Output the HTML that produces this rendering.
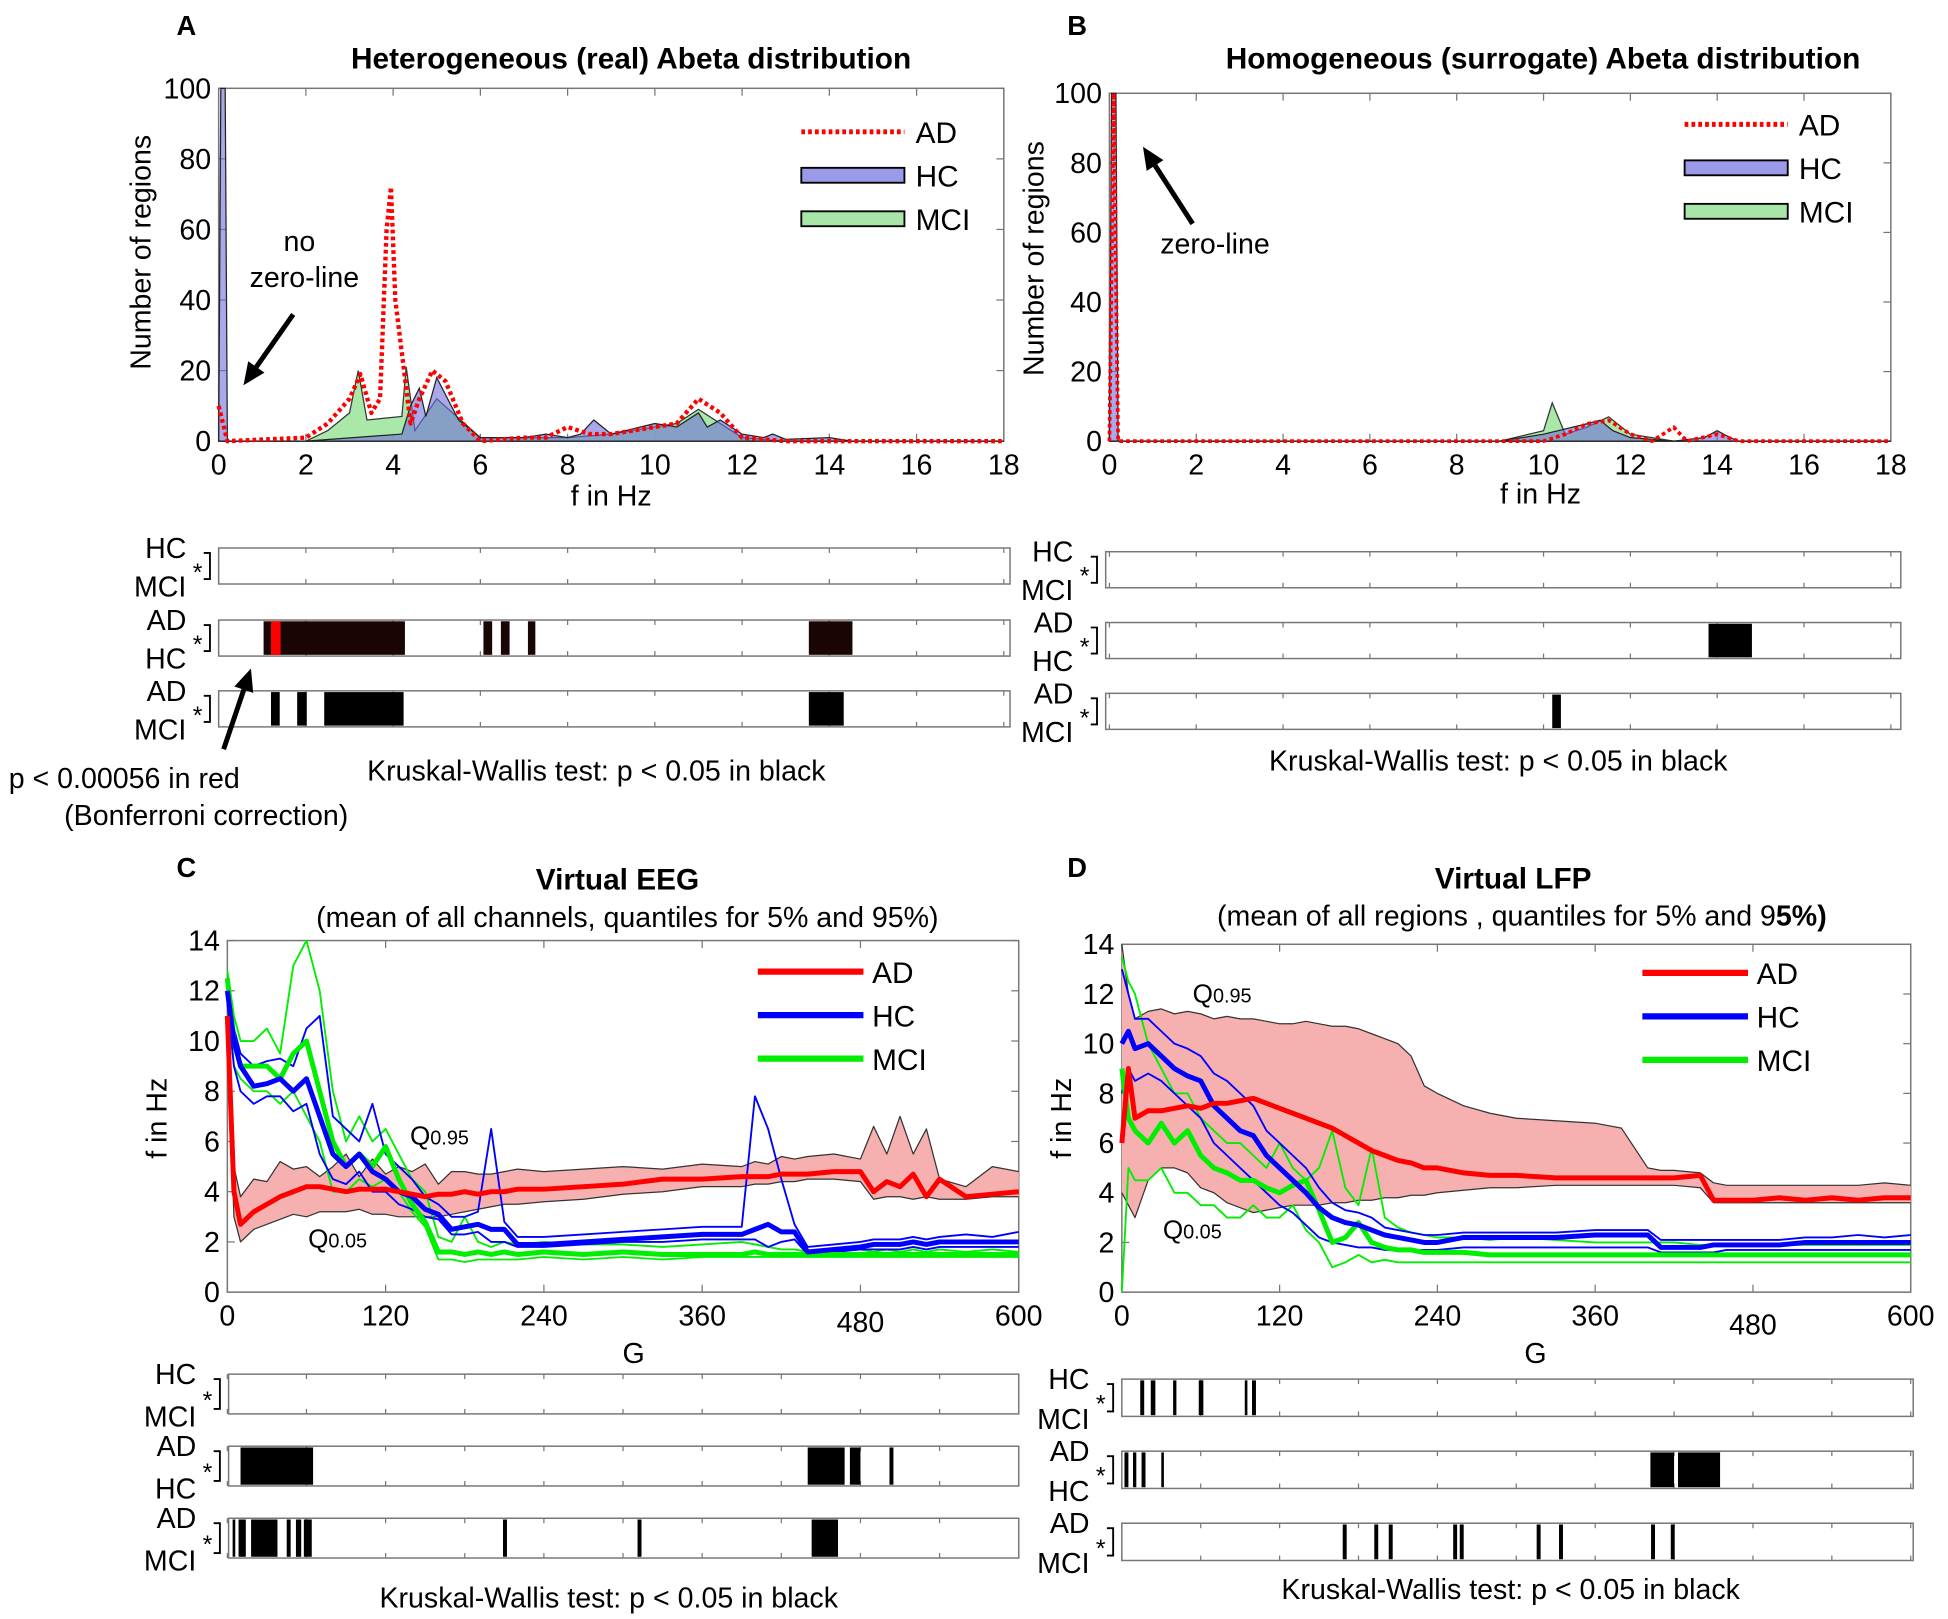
<!DOCTYPE html>
<html><head><meta charset="utf-8"><style>
html,body{margin:0;padding:0;background:#fff}
svg{display:block}
text{font-family:"Liberation Sans",Arial,sans-serif;fill:#000}
</style></head><body>
<svg id="fig" width="1948" height="1619" viewBox="0 0 1568 1303" xmlns="http://www.w3.org/2000/svg"></svg>
<script>
// ---------- Panel A data (f in Hz, number of regions) ----------
const aHcF = [0,0.05,0.15,0.2,2,4.2,4.4,4.6,4.75,5,5.5,6,7,7.5,8,8.3,8.6,9,10,10.5,11,11.2,11.5,12,12.5,12.7,13,14,14.5,18];
const aHcV = [0,100,100,0,0,2,10,15,7,18,6,1,1,2,1,2,6,2,5,4,8,4,6,2,1,2,0.5,1,0,0];
const aMciF = [0,2,2.5,3,3.2,3.4,4.2,4.3,4.5,5,6,8,9,10,10.5,11,12,13,18];
const aMciV = [0,0,3,8,20,6,7,21,3,12,1,1,2,4,5,9,1,0,0];
const aAdF = [0,0.1,0.2,2,2.5,3,3.25,3.5,3.7,3.85,3.95,4.05,4.4,4.6,4.9,5.2,5.6,6,7,7.5,8,8.5,9,9.5,10,10.5,11,11.5,12,13,18];
const aAdV = [10,5,0,1,5,12,19,8,12,60,72,40,5,12,20,17,5,0,1,1,4,2,2,3,4,5,12,8,1,0,0];
// ---------- Panel B data ----------
const bHcF = [0,0.05,0.15,0.2,9,10,11,11.3,11.6,12,13,13.7,14,14.3,14.5,18];
const bHcV = [0,100,100,0,0,2,5,6,3,1,0,1,3,1,0,0];
const bMciF = [0,9,10,10.2,10.5,11,11.5,12,13,18];
const bMciV = [0,0,3,11,2,4,7,2,0,0];
const bAdF = [0,0.1,0.2,10,10.5,11,11.5,12,12.5,13,13.3,14,14.5,18];
const bAdV = [0,100,0,0,2,5,6,2,0,4,0,2,0,0];
// ---------- Panel C data (G vs f in Hz) ----------
const cG = [0,5,10,20,30,40,50,60,70,80,90,100,110,120,130,140,150,160,170,180,190,200,210,220,240,270,300,330,360,390,400,410,420,430,440,460,480,490,500,510,520,530,540,560,580,600];
const cAdMean = [11,4,2.7,3.2,3.5,3.8,4.0,4.2,4.2,4.1,4.0,4.1,4.1,4.1,4.0,3.9,3.8,3.9,3.9,4.0,3.9,4.0,4.0,4.1,4.1,4.2,4.3,4.5,4.5,4.6,4.6,4.6,4.7,4.7,4.7,4.8,4.8,4.0,4.4,4.2,4.7,3.8,4.5,3.8,3.9,4.0];
const cAdQ95 = [11,5,3.8,4.5,4.4,5.2,4.9,5.0,4.6,5.0,5.5,4.6,5.3,4.7,5.0,4.8,5.1,4.3,4.8,4.8,4.7,4.7,4.8,4.9,4.8,4.9,5.0,4.9,5.1,5.0,5.2,5.1,5.4,5.3,5.4,5.5,5.3,6.6,5.5,7.0,5.5,6.5,4.5,4.2,5.0,4.8];
const cAdQ05 = [10,3,2.0,2.5,2.7,2.9,3.1,3.0,3.2,3.2,3.2,3.3,3.1,3.1,3.0,3.0,3.0,3.0,3.1,3.2,3.3,3.4,3.5,3.5,3.6,3.7,3.9,4.0,4.2,4.2,4.3,4.3,4.4,4.4,4.5,4.5,4.4,3.7,3.8,3.8,3.7,3.8,3.7,3.7,3.8,3.8];
const cHcMean = [12,10,9,8.2,8.3,8.5,8.0,8.5,7.0,5.5,5.0,5.5,4.8,4.5,4.0,3.8,3.3,3.1,2.5,2.6,2.7,2.5,2.5,1.9,1.9,2.0,2.1,2.2,2.3,2.3,2.5,2.7,2.4,2.4,1.6,1.7,1.8,1.9,1.9,1.9,2.0,1.9,2.0,2.0,2.0,2.0];
const cHcQ95 = [12.5,10.5,9.5,9.0,9.2,9.3,9.0,10.5,11,7.0,6.5,6.0,7.5,5.5,5.0,4.5,3.8,3.5,3.0,3.0,3.2,6.5,2.8,2.2,2.2,2.3,2.4,2.5,2.6,2.6,7.8,6.5,4.5,2.7,1.8,1.9,2.0,2.1,2.1,2.1,2.2,2.1,2.2,2.3,2.2,2.4];
const cHcQ05 = [11.5,9,8,7.5,7.8,7.8,7.2,7.5,5.5,4.5,4.3,4.8,4.0,4.0,3.5,3.3,3.0,2.9,2.3,2.3,2.4,2.0,2.0,1.8,1.8,1.9,2.0,2.0,2.1,2.1,2.1,1.8,2.0,2.1,1.5,1.6,1.7,1.7,1.7,1.7,1.8,1.7,1.8,1.8,1.8,1.8];
const cMciMean = [12.5,10,9,9,9,8.5,9.5,10,8,6,5,5.5,5,5.8,4.5,3.5,2.8,1.6,1.6,1.5,1.6,1.5,1.6,1.5,1.6,1.5,1.6,1.5,1.5,1.5,1.6,1.5,1.5,1.5,1.5,1.5,1.5,1.5,1.5,1.5,1.5,1.5,1.5,1.5,1.5,1.5];
const cMciQ95 = [12.8,11,10,10,10.5,9.5,13,14,12,8,6,7,6,6.5,5.5,4.5,4,2.2,2.0,3.0,2.0,1.8,2.0,1.9,2.0,1.9,1.9,1.8,1.9,2.0,1.9,1.8,1.7,1.7,1.6,1.6,1.7,1.6,1.7,1.6,1.7,1.6,1.7,1.6,1.7,1.6];
const cMciQ05 = [12,9,8.5,8,8,7.5,8,7,6,4,4,4.5,4.2,4.5,4,3.2,2.6,1.3,1.3,1.2,1.3,1.3,1.3,1.3,1.4,1.3,1.4,1.3,1.4,1.4,1.4,1.4,1.4,1.4,1.4,1.4,1.4,1.4,1.4,1.4,1.4,1.4,1.4,1.4,1.4,1.4];
// ---------- Panel D data ----------
const dG = [0,5,10,20,30,40,50,60,70,80,90,100,110,120,130,140,150,160,170,180,190,200,210,220,230,240,260,280,300,330,360,380,400,410,420,440,450,460,480,500,520,540,560,580,600];
const dAdMean = [6,9,7,7.3,7.3,7.4,7.5,7.4,7.6,7.6,7.7,7.8,7.6,7.4,7.2,7.0,6.8,6.6,6.3,6.0,5.7,5.5,5.3,5.2,5.0,5.0,4.8,4.7,4.7,4.6,4.6,4.6,4.6,4.6,4.6,4.7,3.7,3.7,3.7,3.8,3.7,3.8,3.7,3.8,3.8];
const dAdQ95 = [14,12,11,11.3,11.4,11.2,11.3,11.2,11,11.1,11.0,11.0,10.9,10.8,10.8,10.9,10.8,10.7,10.7,10.6,10.4,10.2,10.0,9.5,8.3,8.0,7.5,7.2,7.0,6.9,6.8,6.6,5.0,4.9,4.9,4.8,4.4,4.3,4.3,4.3,4.3,4.3,4.3,4.4,4.3];
const dAdQ05 = [4,3.5,3,4.5,5,5,4.8,4.2,4.0,3.6,3.4,3.2,3.3,3.4,3.5,3.5,3.5,3.6,3.6,3.7,3.7,3.8,3.8,3.9,3.9,4.0,4.1,4.2,4.2,4.3,4.3,4.3,4.3,4.3,4.3,4.2,3.6,3.6,3.6,3.6,3.6,3.6,3.6,3.6,3.6];
const dHcMean = [10,10.5,9.8,10,9.5,9,8.7,8.5,7.5,7,6.5,6.3,5.5,5,4.5,4,3.4,3.0,2.8,2.7,2.5,2.3,2.2,2.1,2.0,2.0,2.2,2.2,2.2,2.2,2.3,2.3,2.3,1.8,1.8,1.8,1.9,1.9,1.9,1.9,2.0,2.0,2.0,2.0,2.0];
const dHcQ95 = [13,12,11,11,10.5,10,9.8,9.5,8.8,8.5,8,7.5,6.5,6,5.5,5,4.2,3.6,3.3,3.2,3.0,2.6,2.5,2.4,2.3,2.3,2.4,2.4,2.4,2.4,2.5,2.5,2.5,2.1,2.1,2.1,2.1,2.1,2.1,2.1,2.2,2.2,2.3,2.2,2.3];
const dHcQ05 = [8,9,8.5,8.8,8.5,8,7.5,7,6,5.5,5,4.5,4,3.5,3.2,2.7,2.2,2.0,1.9,1.8,1.8,1.7,1.7,1.7,1.7,1.7,1.8,1.8,1.8,1.8,1.8,1.8,1.8,1.6,1.6,1.6,1.6,1.7,1.7,1.7,1.7,1.7,1.7,1.7,1.7];
const dMciMean = [9,7,6.5,6,6.8,6,6.5,5.5,5,4.8,4.5,4.5,4.2,4.0,4.3,4.5,3.3,2.0,2.2,2.8,2.0,1.8,1.7,1.7,1.6,1.6,1.6,1.5,1.5,1.5,1.5,1.5,1.5,1.5,1.5,1.5,1.5,1.5,1.5,1.5,1.5,1.5,1.5,1.5,1.5];
const dMciQ95 = [13.5,12.5,12,10,9,8,8,7,6.5,6,6,5.5,5,6,5,4.5,5,6.5,4.2,3.5,5.8,3,2.6,2.4,2.3,2.2,2.2,2.1,2.2,2.1,2.0,2.0,2.0,2.0,2.0,1.9,1.9,1.9,1.9,1.9,1.9,1.9,1.9,1.9,1.9];
const dMciQ05 = [0,5,4.5,4.5,5,4,4,3.5,3.5,3,3,3.5,3,3,3.5,2.5,2,1.0,1.2,1.5,1.2,1.3,1.2,1.2,1.2,1.2,1.2,1.2,1.2,1.2,1.2,1.2,1.2,1.2,1.2,1.2,1.2,1.2,1.2,1.2,1.2,1.2,1.2,1.2,1.2];
// ---------- Significance intervals ----------
const sigA = [[], [[1.03,4.27],[6.07,6.27],[6.47,6.67],[7.09,7.26],[13.53,14.53]], [[1.2,1.4],[1.8,2.02],[2.42,4.24],[13.53,14.33]]];
const sigARed = [[1.2,1.42]];
const sigB = [[], [[13.8,14.8]], [[10.2,10.4]]];
const sigC = [[], [[10,65],[440,468],[472,480],[502,505]], [[4,6],[8.5,14],[18,38],[45,48],[52,56],[58,64],[209,212],[311,314],[443,463]]];
const sigD = [[[14,17],[22,25.5],[39,41.5],[58.5,62],[93.5,95.5],[99,102]], [[2,5],[8.5,11],[15,18],[30,32],[402,420],[423,455]], [[168,171],[192,195],[203,206],[252,255],[257,260],[315.5,318.5],[332.5,335.5],[402.5,405.5],[417.5,420.5]]];
const freqTicks = [0,2,4,6,8,10,12,14,16,18];
const countTicks = [0,20,40,60,80,100];
const gTicks = [0,120,240,360,480,600];
const fTicks = [0,2,4,6,8,10,12,14];

const NS = 'http://www.w3.org/2000/svg';
const svg = document.getElementById('fig');
function el(tag, attrs, parent, txt){
  const e = document.createElementNS(NS, tag);
  for (const k in attrs) e.setAttribute(k, attrs[k]);
  if (txt !== undefined) e.textContent = txt;
  (parent || svg).appendChild(e);
  return e;
}
function txt(x,y,s,size,anchor,name,bold,parent){
  const t = el('text',{x:x,y:y,'font-size':size,'text-anchor':anchor||'middle'},parent,s);
  if (bold) t.setAttribute('font-weight','bold');
  
  
  return t;
}
function axes(o){
  const g = el('g',{});
  
  
  const sx = v => o.x0 + (v - o.xmin)/(o.xmax - o.xmin)*(o.x1 - o.x0);
  const sy = v => o.y0 - (v - o.ymin)/(o.ymax - o.ymin)*(o.y0 - o.y1);
  const box = el('rect',{x:o.x0,y:o.y1,width:o.x1-o.x0,height:o.y0-o.y1,fill:'#fff',stroke:'#777','stroke-width':1.2},g);
  
  
  o.xt.forEach((v,i) => {
    const x = sx(v);
    el('line',{x1:x,y1:o.y0,x2:x,y2:o.y0-6,stroke:'#777'},g);
    el('line',{x1:x,y1:o.y1,x2:x,y2:o.y1+6,stroke:'#777'},g);
    const dy = (o.xlabOffset && o.xlabOffset[i]) || 0;
    txt(x, o.y0+27+dy, String(v), 23, 'middle', 'x-tick-label', false, g);
  });
  o.yt.forEach(v => {
    const y = sy(v);
    el('line',{x1:o.x0,y1:y,x2:o.x0+6,y2:y,stroke:'#777'},g);
    el('line',{x1:o.x1,y1:y,x2:o.x1-6,y2:y,stroke:'#777'},g);
    txt(o.x0-6, y+8, String(v), 23, 'end', 'y-tick-label', false, g);
  });
  return {g, sx, sy};
}
function area(ax, xs, ys, fill, stroke, name){
  let d = 'M' + ax.sx(xs[0]) + ',' + ax.sy(0);
  xs.forEach((x,i) => { d += 'L' + ax.sx(x) + ',' + ax.sy(ys[i]); });
  d += 'L' + ax.sx(xs[xs.length-1]) + ',' + ax.sy(0) + 'Z';
  const p = el('path',{d:d,fill:fill,stroke:stroke,'stroke-width':1},ax.g);
  
  
}
function line(ax, xs, ys, color, w, dash, name){
  const pts = xs.map((x,i) => ax.sx(x) + ',' + ax.sy(ys[i])).join(' ');
  const p = el('polyline',{points:pts,fill:'none',stroke:color,'stroke-width':w,'stroke-linejoin':'round'},ax.g);
  if (dash) p.setAttribute('stroke-dasharray', dash);
  
  
}
function band(ax, xs, lo, hi, name){
  let d = 'M' + xs.map((x,i) => ax.sx(x) + ',' + ax.sy(hi[i])).join('L');
  d += 'L' + xs.slice().reverse().map((x,i) => ax.sx(x) + ',' + ax.sy(lo[xs.length-1-i])).join('L') + 'Z';
  const p = el('path',{d:d,fill:'#f7b0b0',stroke:'none'},ax.g);
  
  
  line(ax, xs, hi, '#333', 1, null, name + '-upper');
  line(ax, xs, lo, '#333', 1, null, name + '-lower');
}
function strips(o){
  const g = el('g',{});
  
  
  const sx = v => o.x0 + (v - o.xmin)/(o.xmax - o.xmin)*(o.x1 - o.x0);
  o.rows.forEach((r,i) => {
    const y = o.ys[i];
    const rg = el('g',{},g);
    
    
    el('rect',{x:o.bx0,y:y,width:o.bx1-o.bx0,height:o.h,fill:'#fff',stroke:'#777','stroke-width':1.2},rg);
    o.ticks.forEach(v => {
      const x = sx(v);
      el('line',{x1:x,y1:y,x2:x,y2:y+4,stroke:'#777'},rg);
      el('line',{x1:x,y1:y+o.h,x2:x,y2:y+o.h-4,stroke:'#777'},rg);
    });
    r.forEach(iv => {
      const b = el('rect',{x:sx(iv[0]),y:y+1,width:sx(iv[1])-sx(iv[0]),height:o.h-2,fill:i===1&&o.dark?'#1a0505':'#000'},rg);
      
      
    });
    if (i===1 && o.red) o.red.forEach(iv => {
      const b = el('rect',{x:sx(iv[0]),y:y+1,width:sx(iv[1])-sx(iv[0]),height:o.h-2,fill:'#ff0000'},rg);
      
      
    });
    const lx = o.bx0 - 12;
    txt(lx-14, y+8, o.labels[i][0], 23, 'end', 'group-label', false, rg);
    txt(lx-14, y+o.h+10, o.labels[i][1], 23, 'end', 'group-label', false, rg);
    el('path',{d:'M'+(lx)+','+(y+4)+'h5v'+(o.h-8)+'h-5',fill:'none',stroke:'#000','stroke-width':1.5},rg);
    txt(lx-5, y+o.h/2+12, '*', 20, 'middle', 'significance-asterisk', false, rg);
  });
  txt(o.tx, o.ty, 'Kruskal-Wallis test: p < 0.05 in black', 23, 'middle', 'test-caption', false, g);
}
function arrow(x1,y1,x2,y2,name){
  const g = el('g',{});
  
  
  const a = Math.atan2(y2-y1,x2-x1), L=18, W=8;
  const bx = x2 - L*Math.cos(a), by = y2 - L*Math.sin(a);
  el('line',{x1:x1,y1:y1,x2:bx,y2:by,stroke:'#000','stroke-width':4},g);
  el('polygon',{points:x2+','+y2+' '+(bx+W*Math.sin(a))+','+(by-W*Math.cos(a))+' '+(bx-W*Math.sin(a))+','+(by+W*Math.cos(a)),fill:'#000'},g);
}
function legend(x, y0, items, kind, name){
  const g = el('g',{});
  
  
  items.forEach((it,i) => {
    const y = y0 + i*35;
    const eg = el('g',{},g);
    
    
    if (it.type === 'dot') el('line',{x1:x,y1:y,x2:x+83,y2:y,stroke:'#ff0000','stroke-width':4,'stroke-dasharray':'3 2.5'},eg);
    else if (it.type === 'box') el('rect',{x:x,y:y-6,width:83,height:12,fill:it.color,stroke:'#000','stroke-width':1.5},eg);
    else el('line',{x1:x,y1:y,x2:x+85,y2:y,stroke:it.color,'stroke-width':5},eg);
    txt(x+92, y+9, it.label, 24, 'start', 'legend-label', false, eg);
  });
}

// ===== Panel A =====
txt(150,28,'A',22,'middle','panel-letter-a',true);
txt(508,55,'Heterogeneous (real) Abeta distribution',24,'middle','panel-a-title',true);
const A = axes({name:'panel-a-axes',x0:176,x1:808,y0:355,y1:71,xmin:0,xmax:18,ymin:0,ymax:100,xt:freqTicks,yt:countTicks});
area(A, aMciF, aMciV, 'rgba(160,230,160,0.9)', '#333', 'mci-area');
area(A, aHcF, aHcV, 'rgba(110,110,220,0.6)', '#222', 'hc-area');
line(A, aAdF, aAdV, '#ff0000', 3.5, '3 2.5', 'ad-line');
txt(492,407,'f in Hz',23,'middle','x-axis-title');
txt(0,0,'Number of regions',23,'middle','y-axis-title').setAttribute('transform','translate(121,203) rotate(-90)');
legend(645,106,[{type:'dot',label:'AD'},{type:'box',label:'HC',color:'#9a9ae8'},{type:'box',label:'MCI',color:'#a8e6a8'}],'a','panel-a-legend');
txt(241,202,'no',23,'middle','annotation-no-zero-line');
txt(245,231,'zero-line',23,'middle','annotation-no-zero-line');
arrow(236,253,196,310,'annotation-arrow');
strips({name:'panel-a-significance',x0:176,x1:808,xmin:0,xmax:18,bx0:176,bx1:813,ys:[441,499,556],h:29,rows:sigA,red:sigARed,dark:true,labels:[['HC','MCI'],['AD','HC'],['AD','MCI']],ticks:freqTicks,tx:480,ty:628});
txt(100,634,'p < 0.00056 in red',23,'middle','bonferroni-note');
txt(166,664,'(Bonferroni correction)',23,'middle','bonferroni-note');
arrow(180,603,202,538,'bonferroni-arrow');

// ===== Panel B =====
txt(867,28,'B',22,'middle','panel-letter-b',true);
txt(1242,55,'Homogeneous (surrogate) Abeta distribution',24,'middle','panel-b-title',true);
const B = axes({name:'panel-b-axes',x0:893,x1:1522,y0:355,y1:75,xmin:0,xmax:18,ymin:0,ymax:100,xt:freqTicks,yt:countTicks});
area(B, bMciF, bMciV, 'rgba(160,230,160,0.9)', '#333', 'mci-area');
area(B, bHcF, bHcV, 'rgba(110,110,220,0.6)', '#222', 'hc-area');
line(B, bAdF, bAdV, '#ff0000', 3, '3 2.5', 'ad-line');
txt(1240,405,'f in Hz',23,'middle','x-axis-title');
txt(0,0,'Number of regions',23,'middle','y-axis-title').setAttribute('transform','translate(840,208) rotate(-90)');
legend(1356,100,[{type:'dot',label:'AD'},{type:'box',label:'HC',color:'#9a9ae8'},{type:'box',label:'MCI',color:'#a8e6a8'}],'b','panel-b-legend');
txt(978,204,'zero-line',23,'middle','annotation-zero-line');
arrow(960,180,920,118,'zero-line-arrow');
strips({name:'panel-b-significance',x0:893,x1:1522,xmin:0,xmax:18,bx0:890,bx1:1530,ys:[444,501,558],h:29,rows:sigB,labels:[['HC','MCI'],['AD','HC'],['AD','MCI']],ticks:freqTicks,tx:1206,ty:620});

// ===== Panel C =====
txt(150,706,'C',22,'middle','panel-letter-c',true);
txt(497,716,'Virtual EEG',24,'middle','panel-c-title',true);
txt(505,746,'(mean of all channels, quantiles for 5% and 95%)',23,'middle','panel-c-subtitle');
const C = axes({name:'panel-c-axes',x0:183,x1:820,y0:1040,y1:757,xmin:0,xmax:600,ymin:0,ymax:14,xt:gTicks,yt:fTicks,xlabOffset:[0,0,0,0,5,0]});
band(C, cG, cAdQ05, cAdQ95, 'ad-quantile-band');
line(C, cG, cMciQ95, '#00ee00', 1.5, null, 'mci-q95-line');
line(C, cG, cMciQ05, '#00ee00', 1.5, null, 'mci-q05-line');
line(C, cG, cHcQ95, '#0000ff', 1.5, null, 'hc-q95-line');
line(C, cG, cHcQ05, '#0000ff', 1.5, null, 'hc-q05-line');
line(C, cG, cMciMean, '#00ee00', 4, null, 'mci-mean-line');
line(C, cG, cHcMean, '#0000ff', 4, null, 'hc-mean-line');
line(C, cG, cAdMean, '#ff0000', 4, null, 'ad-mean-line');
txt(510,1097,'G',23,'middle','x-axis-title');
txt(0,0,'f in Hz',23,'middle','y-axis-title').setAttribute('transform','translate(134,900) rotate(-90)');
legend(610,782,[{type:'l',label:'AD',color:'#ff0000'},{type:'l',label:'HC',color:'#0000ff'},{type:'l',label:'MCI',color:'#00ee00'}],'c','panel-c-legend');
let q = txt(330,921,'Q',21,'start','q95-label'); el('tspan',{'font-size':16},q,'0.95');
q = txt(248,1004,'Q',21,'start','q05-label'); el('tspan',{'font-size':16},q,'0.05');
strips({name:'panel-c-significance',x0:183,x1:820,xmin:0,xmax:600,bx0:184,bx1:820,ys:[1106,1164,1222],h:32,rows:sigC,labels:[['HC','MCI'],['AD','HC'],['AD','MCI']],ticks:[0,60,120,180,240,300,360,420,480,540,600],tx:490,ty:1294});

// ===== Panel D =====
txt(867,706,'D',22,'middle','panel-letter-d',true);
txt(1218,715,'Virtual LFP',24,'middle','panel-d-title',true);
const st = txt(1225,745,'(mean of all regions , quantiles for 5% and 9',23,'middle','panel-d-subtitle');
el('tspan',{'font-weight':'bold'},st,'5%)');
const D = axes({name:'panel-d-axes',x0:903,x1:1538,y0:1040,y1:760,xmin:0,xmax:600,ymin:0,ymax:14,xt:gTicks,yt:fTicks,xlabOffset:[0,0,0,0,7,0]});
band(D, dG, dAdQ05, dAdQ95, 'ad-quantile-band');
line(D, dG, dMciQ95, '#00ee00', 1.5, null, 'mci-q95-line');
line(D, dG, dMciQ05, '#00ee00', 1.5, null, 'mci-q05-line');
line(D, dG, dHcQ95, '#0000ff', 1.5, null, 'hc-q95-line');
line(D, dG, dHcQ05, '#0000ff', 1.5, null, 'hc-q05-line');
line(D, dG, dMciMean, '#00ee00', 4, null, 'mci-mean-line');
line(D, dG, dHcMean, '#0000ff', 4, null, 'hc-mean-line');
line(D, dG, dAdMean, '#ff0000', 4, null, 'ad-mean-line');
txt(1236,1097,'G',23,'middle','x-axis-title');
txt(0,0,'f in Hz',23,'middle','y-axis-title').setAttribute('transform','translate(862,900) rotate(-90)');
legend(1322,783,[{type:'l',label:'AD',color:'#ff0000'},{type:'l',label:'HC',color:'#0000ff'},{type:'l',label:'MCI',color:'#00ee00'}],'d','panel-d-legend');
q = txt(960,807,'Q',21,'start','q95-label'); el('tspan',{'font-size':16},q,'0.95');
q = txt(936,997,'Q',21,'start','q05-label'); el('tspan',{'font-size':16},q,'0.05');
strips({name:'panel-d-significance',x0:903,x1:1538,xmin:0,xmax:600,bx0:903,bx1:1540,ys:[1110,1168,1226],h:30,rows:sigD,labels:[['HC','MCI'],['AD','HC'],['AD','MCI']],ticks:[0,60,120,180,240,300,360,420,480,540,600],tx:1216,ty:1287});
</script>
</body></html>
